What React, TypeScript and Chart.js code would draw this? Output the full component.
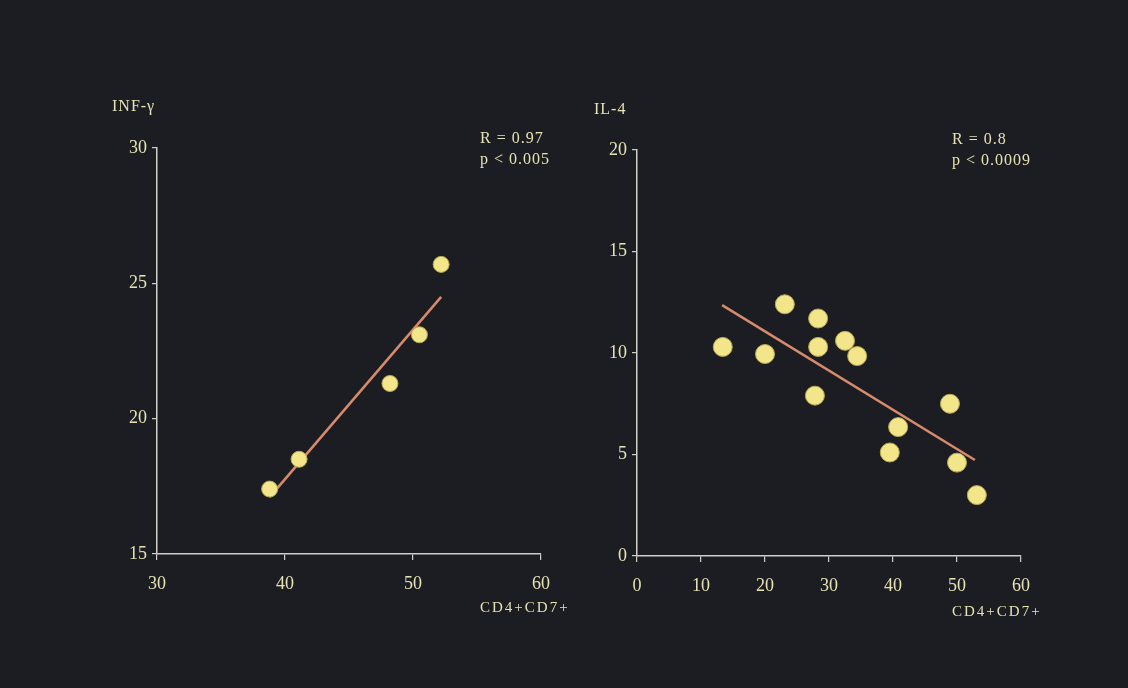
import React, { useEffect, useRef } from "react";
import { Chart, registerables } from "chart.js";

Chart.register(...registerables);

// Left panel: INF-γ vs CD4+CD7+
const leftX = [38.8, 41.1, 48.2, 50.5, 52.2];
const leftY = [17.4, 18.5, 21.3, 23.1, 25.7];
const leftFitX = [38.8, 52.2];
const leftFitY = [17.1, 24.5];
const leftXTicks = [30, 40, 50, 60];
const leftYTicks = [15, 20, 25, 30];

// Right panel: IL-4 vs CD4+CD7+
const rightX = [13.4, 20.0, 23.1, 28.3, 28.3, 32.5, 34.4, 27.8, 48.9, 40.8, 39.5, 50.0, 53.1];
const rightY = [10.3, 9.95, 12.4, 11.7, 10.3, 10.6, 9.85, 7.9, 7.5, 6.35, 5.1, 4.6, 3.0];
const rightFitX = [13.3, 52.8];
const rightFitY = [12.36, 4.73];
const rightXTicks = [0, 10, 20, 30, 40, 50, 60];
const rightYTicks = [0, 5, 10, 15, 20];

const BG = "#1b1d22";
const TEXT = "#e6e2b4";
const AXIS = "#cfcfc6";
const DOT = "#f2e58a";
const DOT_EDGE = "#b9a950";
const FIT = "#d88b6c";
const FONT = "'Liberation Serif', 'Times New Roman', serif";

type Panel = {
  xs: number[];
  ys: number[];
  fx: number[];
  fy: number[];
  xt: number[];
  yt: number[];
  area: { l: number; r: number; t: number; b: number };
  yTitle: string;
  yTitlePos: [number, number];
  stats: string[];
  statsPos: [number, number];
  xTitlePos: [number, number];
  radius: number;
};

const panels: Panel[] = [
  {
    xs: leftX, ys: leftY, fx: leftFitX, fy: leftFitY, xt: leftXTicks, yt: leftYTicks,
    area: { l: 157, r: 541, t: 148, b: 554 },
    yTitle: "INF-γ", yTitlePos: [112, 107],
    stats: ["R = 0.97", "p < 0.005"], statsPos: [480, 139],
    xTitlePos: [480, 608],
    radius: 8,
  },
  {
    xs: rightX, ys: rightY, fx: rightFitX, fy: rightFitY, xt: rightXTicks, yt: rightYTicks,
    area: { l: 637, r: 1021, t: 150, b: 556 },
    yTitle: "IL-4", yTitlePos: [594, 110],
    stats: ["R = 0.8", "p < 0.0009"], statsPos: [952, 140],
    xTitlePos: [952, 612],
    radius: 9.5,
  },
];

const W = 1128;
const H = 688;
const YW = 50;
const XH = 44;

function PanelChart({ p }: { p: Panel }) {
  const ref = useRef<HTMLCanvasElement | null>(null);
  useEffect(() => {
    if (!ref.current) return;
    const textPlugin = {
      id: "texts",
      afterDraw(chart: any) {
        const ctx = chart.ctx;
        ctx.save();
        ctx.fillStyle = TEXT;
        ctx.textBaseline = "middle";
        ctx.textAlign = "left";
        ctx.font = `16px ${FONT}`;
        (ctx as any).letterSpacing = "1px";
        ctx.fillText(p.yTitle, p.yTitlePos[0], p.yTitlePos[1]);
        p.stats.forEach((s, i) => ctx.fillText(s, p.statsPos[0], p.statsPos[1] + i * 21));
        ctx.font = `15px ${FONT}`;
        (ctx as any).letterSpacing = "2px";
        ctx.fillText("CD4+CD7+", p.xTitlePos[0], p.xTitlePos[1]);
        ctx.restore();
      },
    };
    const chart = new Chart(ref.current, {
      type: "scatter",
      data: {
        datasets: [
          {
            type: "line",
            data: p.fx.map((x, i) => ({ x, y: p.fy[i] })),
            borderColor: FIT,
            borderWidth: 2.5,
            pointRadius: 0,
            fill: false,
            order: 2,
          } as any,
          {
            data: p.xs.map((x, i) => ({ x, y: p.ys[i] })),
            backgroundColor: DOT,
            borderColor: DOT_EDGE,
            borderWidth: 1,
            pointRadius: p.radius,
            order: 1,
          },
        ],
      },
      options: {
        responsive: false,
        animation: false,
        events: [],
        layout: {
          padding: {
            left: p.area.l - YW,
            right: W - p.area.r,
            top: p.area.t,
            bottom: H - p.area.b - XH,
          },
        },
        plugins: { legend: { display: false }, tooltip: { enabled: false } },
        scales: {
          x: {
            type: "linear",
            min: p.xt[0],
            max: p.xt[p.xt.length - 1],
            afterFit: (s: any) => { s.height = XH; },
            afterBuildTicks: (s: any) => { s.ticks = p.xt.map((v) => ({ value: v })); },
            grid: { display: true, drawOnChartArea: false, drawTicks: true, tickLength: 6, color: AXIS, lineWidth: 1.2 },
            border: { display: true, color: AXIS, width: 1.5 },
            ticks: { color: TEXT, font: { family: FONT, size: 18 }, padding: 13 },
          },
          y: {
            type: "linear",
            min: p.yt[0],
            max: p.yt[p.yt.length - 1],
            afterFit: (s: any) => { s.width = YW; },
            afterBuildTicks: (s: any) => { s.ticks = p.yt.map((v) => ({ value: v })); },
            grid: { display: true, drawOnChartArea: false, drawTicks: true, tickLength: 5, color: AXIS, lineWidth: 1.2 },
            border: { display: true, color: AXIS, width: 1.5 },
            ticks: { color: TEXT, font: { family: FONT, size: 18 }, padding: 5 },
          },
        },
      } as any,
      plugins: [textPlugin],
    });
    return () => chart.destroy();
  }, [p]);
  return (
    <canvas
      ref={ref}
      width={W}
      height={H}
      style={{ position: "absolute", left: 0, top: 0, width: W, height: H }}
    />
  );
}

export default function App() {
  return (
    <div style={{ position: "fixed", left: 0, top: 0, width: W, height: H, background: BG, overflow: "hidden" }}>
      {panels.map((p, i) => (
        <PanelChart key={i} p={p} />
      ))}
    </div>
  );
}
